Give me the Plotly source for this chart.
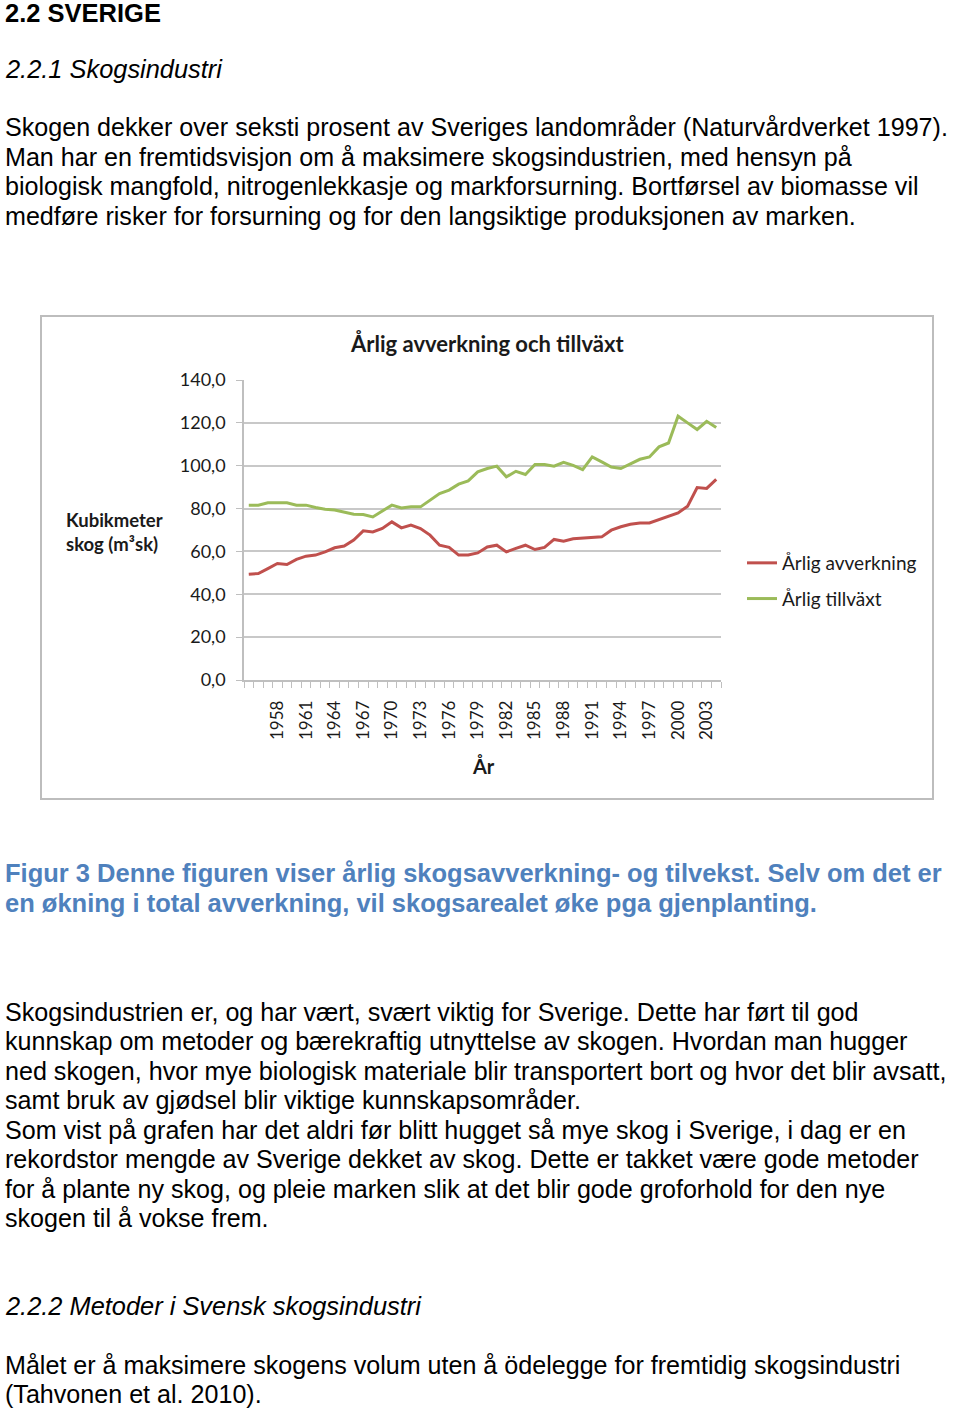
import plotly.graph_objects as go

# Data (million m3sk per year)
YEARS = list(range(1955, 2005))

AVVERKNING = [
    49.4, 49.7, 52.0, 54.4, 53.9, 56.3, 57.8, 58.3, 59.8, 61.7,
    62.5, 65.3, 69.6, 69.1, 70.7, 73.8, 71.0, 72.3, 70.7, 67.6,
    62.9, 61.9, 58.3, 58.3, 59.3, 62.1, 62.9, 59.8, 61.4, 62.9,
    60.9, 61.9, 65.6, 64.8, 65.9, 66.3, 66.7, 66.8, 69.9, 71.5,
    72.7, 73.3, 73.3, 74.9, 76.5, 78.0, 81.1, 89.8, 89.4, 93.6,
]

TILLVAXT = [
    81.6, 81.6, 82.7, 82.7, 82.7, 81.6, 81.6, 80.5, 79.7, 79.3,
    78.5, 77.4, 77.2, 76.1, 78.9, 81.6, 80.3, 80.8, 80.8, 83.9,
    87.0, 88.6, 91.4, 92.9, 97.1, 98.7, 99.8, 94.8, 97.4, 95.9,
    100.6, 100.6, 99.8, 101.6, 100.2, 98.2, 104.1, 101.8, 99.4, 98.7,
    100.7, 103.0, 104.1, 108.8, 110.6, 123.1, 120.0, 116.9, 120.7, 117.8,
]

YTICKS = [0, 20, 40, 60, 80, 100, 120, 140]
XTICKS = list(range(1958, 2004, 3))

SERIES_NAMES = ["Årlig avverkning", "Årlig tillväxt"]
CHART_TITLE = "Årlig avverkning och tillväxt"
Y_TITLE = "Kubikmeter<br>skog (m³sk)"
X_TITLE = "År"

PAGE_TEXT = [
    # (text, y pixel, style)
    ("2.2 SVERIGE", 13, "h1"),
    ("2.2.1 Skogsindustri", 69, "h2"),
    ("Skogen dekker over seksti prosent av Sveriges landområder (Naturvårdverket 1997).", 127, "body"),
    ("Man har en fremtidsvisjon om å maksimere skogsindustrien, med hensyn på", 157, "body"),
    ("biologisk mangfold, nitrogenlekkasje og markforsurning. Bortførsel av biomasse vil", 186, "body"),
    ("medføre risker for forsurning og for den langsiktige produksjonen av marken.", 216, "body"),
    ("Figur 3 Denne figuren viser årlig skogsavverkning- og tilvekst. Selv om det er", 873, "cap"),
    ("en økning i total avverkning, vil skogsarealet øke pga gjenplanting.", 903, "cap"),
    ("Skogsindustrien er, og har vært, svært viktig for Sverige. Dette har ført til god", 1012, "body"),
    ("kunnskap om metoder og bærekraftig utnyttelse av skogen. Hvordan man hugger", 1041, "body"),
    ("ned skogen, hvor mye biologisk materiale blir transportert bort og hvor det blir avsatt,", 1071, "body"),
    ("samt bruk av gjødsel blir viktige kunnskapsområder.", 1100, "body"),
    ("Som vist på grafen har det aldri før blitt hugget så mye skog i Sverige, i dag er en", 1130, "body"),
    ("rekordstor mengde av Sverige dekket av skog. Dette er takket være gode metoder", 1159, "body"),
    ("for å plante ny skog, og pleie marken slik at det blir gode groforhold for den nye", 1189, "body"),
    ("skogen til å vokse frem.", 1218, "body"),
    ("2.2.2 Metoder i Svensk skogsindustri", 1306, "h2"),
    ("Målet er å maksimere skogens volum uten å ödelegge for fremtidig skogsindustri", 1365, "body"),
    ("(Tahvonen et al. 2010).", 1394, "body"),
]

W, H = 960, 1409
PLOT_L, PLOT_R, PLOT_T, PLOT_B = 244, 721, 380, 680

DOC_FONT = "Liberation Sans, Arial, sans-serif"
CHART_FONT = "Lato, Carlito, Calibri, sans-serif"


def px(x):
    return (x - PLOT_L) / (PLOT_R - PLOT_L)


def py(y):
    return (PLOT_B - y) / (PLOT_B - PLOT_T)


fig = go.Figure()

fig.add_trace(go.Scatter(
    x=YEARS, y=AVVERKNING, mode="lines", name=SERIES_NAMES[0],
    line=dict(color="#c0504d", width=3), legendgroup="a",
))
fig.add_trace(go.Scatter(
    x=YEARS, y=TILLVAXT, mode="lines", name=SERIES_NAMES[1],
    line=dict(color="#9bbb59", width=3), legendgroup="b",
))

styles = {
    "h1": dict(size=25.5, color="black", family=DOC_FONT, weight="bold"),
    "h2": dict(size=25.4, color="black", family=DOC_FONT, style="italic"),
    "body": dict(size=25.1, color="black", family=DOC_FONT),
    "cap": dict(size=25.5, color="#4f81bd", family=DOC_FONT, weight="bold"),
}

annotations = []
for text, ypix, st in PAGE_TEXT:
    annotations.append(dict(
        text=text, x=px(3), y=py(ypix), xref="paper", yref="paper",
        xanchor="left", yanchor="middle", showarrow=False, font=styles[st],
    ))

# chart title and axis titles
annotations.append(dict(
    text="<b>" + CHART_TITLE + "</b>", x=px(487), y=py(343), xref="paper", yref="paper",
    xanchor="center", yanchor="middle", showarrow=False,
    font=dict(size=22, color="#1a1a1a", family=CHART_FONT),
))
annotations.append(dict(
    text="<b>" + Y_TITLE + "</b>", x=px(114), y=py(532), xref="paper", yref="paper",
    xanchor="center", yanchor="middle", showarrow=False, align="left",
    font=dict(size=18.5, color="#1a1a1a", family=CHART_FONT),
))
annotations.append(dict(
    text="<b>" + X_TITLE + "</b>", x=px(483), y=py(766), xref="paper", yref="paper",
    xanchor="center", yanchor="middle", showarrow=False,
    font=dict(size=20, color="#1a1a1a", family=CHART_FONT),
))

# border of the embedded chart picture
shapes = [dict(
    type="rect", xref="paper", yref="paper",
    x0=px(41), x1=px(933), y0=py(316), y1=py(799),
    line=dict(color="#bdbdbd", width=2), fillcolor="rgba(0,0,0,0)", layer="below",
)]

fig.update_layout(
    width=W, height=H,
    margin=dict(l=PLOT_L, r=W - PLOT_R, t=PLOT_T, b=H - PLOT_B),
    paper_bgcolor="white", plot_bgcolor="white",
    separators=", ",
    showlegend=True,
    legend=dict(
        x=px(742), y=py(544), xanchor="left", yanchor="top",
        font=dict(size=19, color="#1a1a1a", family=CHART_FONT),
        tracegroupgap=8, itemwidth=30, bgcolor="rgba(0,0,0,0)",
    ),
    annotations=annotations,
    shapes=shapes,
)

fig.update_xaxes(
    range=[1954.5, 2004.5],
    tickvals=XTICKS, ticks="", tickangle=-90,
    tickfont=dict(size=17, color="#1a1a1a", family=CHART_FONT),
    ticklabelstandoff=12,
    showgrid=False, showline=True, linecolor="#bfbfbf", linewidth=1.5,
    minor=dict(tickvals=[1954.5 + i for i in range(51)], ticks="outside",
               ticklen=6, tickcolor="#bfbfbf", tickwidth=1, showgrid=False),
    zeroline=False,
)
fig.update_yaxes(
    range=[0, 140], tickvals=YTICKS, tickformat=".1f",
    tickfont=dict(size=18, color="#1a1a1a", family=CHART_FONT),
    ticks="outside", ticklen=6, tickcolor="#bfbfbf", ticklabelstandoff=7,
    showgrid=True, gridcolor="#c8c8c8", gridwidth=1.5,
    showline=True, linecolor="#bfbfbf", linewidth=1.5, zeroline=False,
)

# the page is a document screenshot: drop the default body margin
fig.write_html(
    "out.html",
    config={"displayModeBar": False},
    post_script="document.body.style.margin='0';",
)
